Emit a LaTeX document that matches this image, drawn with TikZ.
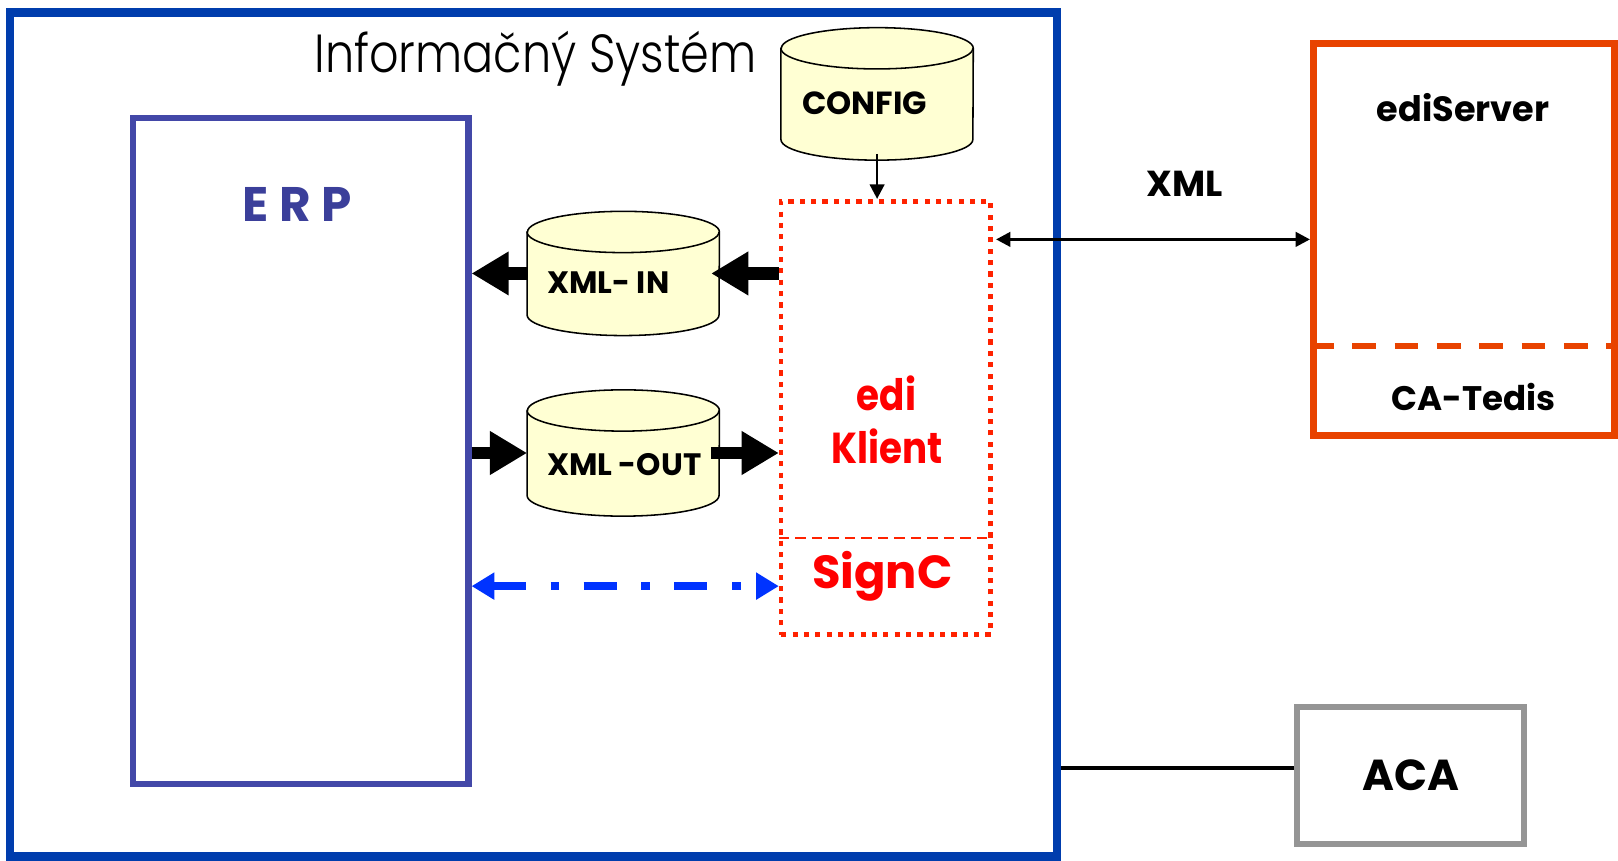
\documentclass[tikz,border=0pt]{standalone}
\usepackage{fontspec}
\setmainfont{Poppins}
\newfontfamily\lightfont{Poppins Light}[FakeStretch=0.86]
\newfontfamily\narrowfont{Poppins}[FakeStretch=0.86]
\usetikzlibrary{arrows.meta,positioning}

\definecolor{isblue}{HTML}{003DAD}
\definecolor{erpblue}{HTML}{4348A8}
\definecolor{erpink}{HTML}{3B3F9A}
\definecolor{tankfill}{HTML}{FFFFD3}
\definecolor{klientred}{HTML}{FF2200}
\definecolor{serverorange}{HTML}{E84300}
\definecolor{acagray}{HTML}{959595}
\definecolor{signblue}{HTML}{0033FF}

% database tank drawn round an empty named node
\newcommand\drawtank[1]{%
  \draw[line width=1.5pt, fill=tankfill]
    ([yshift=-20pt]#1.north west) -- ([yshift=20pt]#1.south west)
    arc[start angle=180, end angle=360, x radius=93, y radius=20]
    -- ([yshift=-20pt]#1.north east)
    arc[start angle=0, end angle=180, x radius=93, y radius=20] -- cycle;
  \draw[line width=1.5pt] ([yshift=-20pt]#1.north west)
    arc[start angle=180, end angle=360, x radius=93, y radius=20];
}

\tikzset{
  frame/.style={draw, inner sep=0pt, minimum width=#1},
  dbtank/.style={inner sep=0pt, minimum width=186pt},
  boldtext/.style={font=\bfseries\fontsize{#1}{#1}\selectfont, anchor=base, inner sep=0pt},
  blockarrow/.style={line width=12pt, -{Triangle[width=40pt,length=36pt]}},
  thinarrow/.style={line width=3pt, {Triangle[width=14pt,length=14pt]}-{Triangle[width=14pt,length=14pt]}},
}

\begin{document}
\begin{tikzpicture}[x=1pt,y=1pt]
\useasboundingbox (0,0) rectangle (1568,-834);
% Informacny System
\node[frame=1014pt, draw=isblue, line width=8pt, minimum height=818pt] (is) at (517,-421) {};
\node[anchor=base, inner sep=0pt, font=\lightfont\fontsize{52}{52}\selectfont] (istitle) at (519,-70) {Informačný Systém};

% ERP
\node[frame=325pt, draw=erpblue, line width=6pt, minimum height=646pt] (erp) at (291.5,-437) {};
\node[boldtext=47, text=erpink] (erpname) at (288,-215) {E R P};

% databases
\node[dbtank, minimum height=128pt] (config) at (850,-91) {};
\drawtank{config}
\node[boldtext=31] (configname) at (838,-111) {CONFIG};
\node[dbtank, minimum height=120pt] (xmlin) at (604,-265) {};
\drawtank{xmlin}
\node[boldtext=30, anchor=base west] (xmlinname) at (530,-284) {XML- IN};
\node[dbtank, minimum height=122pt] (xmlout) at (604,-439) {};
\drawtank{xmlout}
\node[boldtext=30, anchor=base west] (xmloutname) at (530,-461) {XML -OUT};

% edi Klient
\node[frame=203pt, draw=klientred, line width=4.5pt, dash pattern=on 5pt off 6pt, minimum height=420pt] (edi) at (858.5,-405) {};
\draw[klientred, line width=2pt, dash pattern=on 10pt off 6pt] (edi.west |- 0,-521) -- (edi.east |- 0,-521);
\node[boldtext=42, font=\narrowfont\bfseries\fontsize{42}{42}\selectfont, text=red] (ediname) at (859,-398) {edi};
\node[boldtext=42, font=\narrowfont\bfseries\fontsize{42}{42}\selectfont, text=red] (klientname) at (860,-449) {Klient};
\node[boldtext=45, text=red] (signname) at (855,-570) {SignC};

% ediServer
\node[frame=292pt, draw=serverorange, line width=7pt, minimum height=380pt] (ediserver) at (1419,-232) {};
\draw[serverorange, line width=6pt, dash pattern=on 23pt off 18pt] (ediserver.west |- 0,-335) -- (ediserver.east |- 0,-335);
\node[boldtext=34] (servername) at (1418,-118) {ediServer};
\node[boldtext=33] (tedisname) at (1428,-398) {CA-Tedis};

% ACA
\node[frame=220pt, draw=acagray, line width=6pt, minimum height=133pt] (aca) at (1367,-751.5) {};
\node[boldtext=42] (acaname) at (1367,-766) {ACA};

% connectors
\draw[line width=2.5pt, -{Triangle[width=14pt,length=14pt]}] ([yshift=6pt]config.south) -- (config.south |- edi.north);
\draw[blockarrow, shorten >=-8pt] (edi.west |- xmlin) -- (xmlin.east);
\draw[blockarrow] (xmlin.west) -- (erp.east |- xmlin);
\draw[blockarrow] (erp.east |- xmlout) -- (xmlout.west);
\draw[blockarrow, shorten <=-8pt] (xmlout.east) -- (edi.west |- xmlout);
\coordinate (signlink) at (0,-568);
\draw[signblue, line width=8pt, dash pattern=on 32pt off 24pt on 8pt off 24pt,
  {Triangle[width=25pt,length=22pt]}-{Triangle[width=25pt,length=22pt]}]
  (erp.east |- signlink) -- (edi.west |- signlink);
\draw[thinarrow] (edi.east) ++(3,0) coordinate (xmllink) (ediserver.west) -- (ediserver.west -| xmllink);
\node[boldtext=35] (xmlname) at (1148,-190) {XML};
\coordinate (acalink) at ([yshift=7pt]aca.west);
\draw[line width=4pt] (acalink) -- (acalink -| is.east);
\end{tikzpicture}
\end{document}
